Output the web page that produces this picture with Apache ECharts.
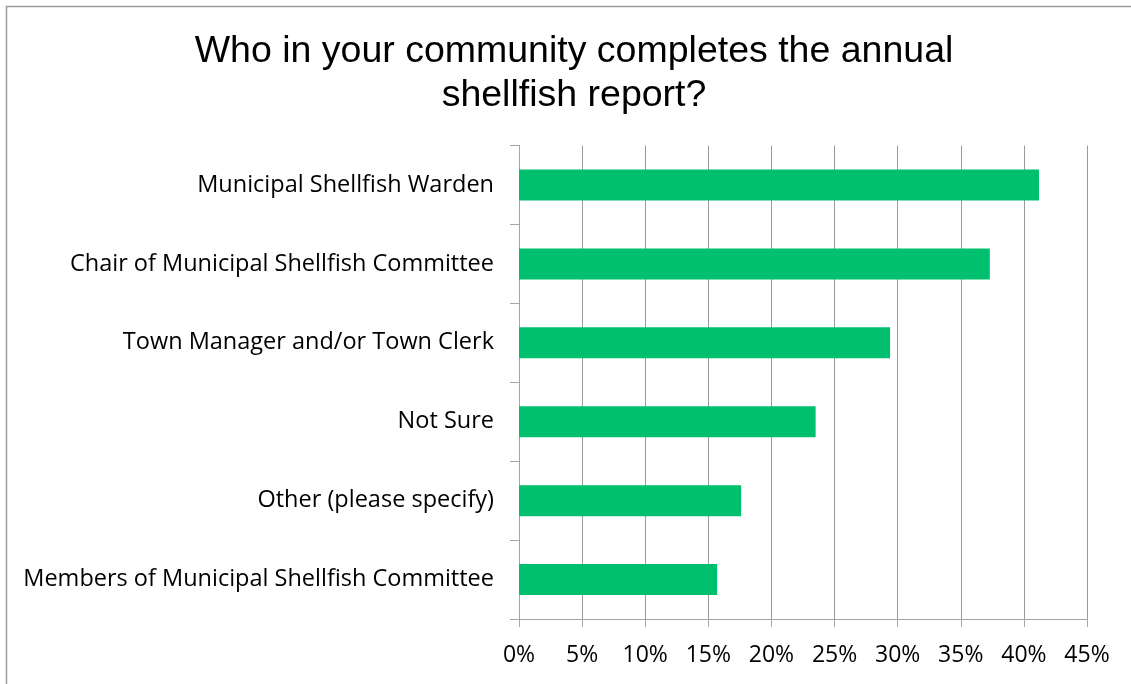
<!DOCTYPE html>
<html>
<head>
<meta charset="utf-8">
<script src="https://cdn.jsdelivr.net/npm/echarts@6/dist/echarts.min.js"></script>
<style>
  html, body { margin: 0; padding: 0; background: #fff; }
  #chart { width: 1131px; height: 684px; }
</style>
</head>
<body>
<div id="chart"></div>
<script>
// Survey responses, share of respondents
const categories = [
  'Municipal Shellfish Warden',
  'Chair of Municipal Shellfish Committee',
  'Town Manager and/or Town Clerk',
  'Not Sure',
  'Other (please specify)',
  'Members of Municipal Shellfish Committee'
];
const shares = [41.2, 37.3, 29.4, 23.5, 17.6, 15.7];
const titleLines = ['Who in your community completes the annual', 'shellfish report?'];

const chart = echarts.init(document.getElementById('chart'), null, { renderer: 'canvas' });
const gray = '#a6a6a6';
const labelFont = '"Open Sans", "Noto Sans", sans-serif';

chart.setOption({
  animation: false,
  backgroundColor: '#ffffff',
  graphic: [
    {
      type: 'rect',
      shape: { x: 6.5, y: 6.5, width: 1200, height: 800 },
      style: { fill: 'none', stroke: '#9a9a9a', lineWidth: 1.5 },
      silent: true
    },
    {
      type: 'text',
      x: 574,
      y: 30,
      style: {
        text: titleLines.join('\n'),
        font: '37.5px "Liberation Sans", Arial, sans-serif',
        lineHeight: 44,
        fill: '#000',
        align: 'center',
        verticalAlign: 'top'
      }
    }
  ],
  grid: { left: 519, right: 44, top: 145.5, bottom: 65, containLabel: false },
  xAxis: {
    type: 'value',
    min: 0,
    max: 45,
    interval: 5,
    axisLine: { show: true, lineStyle: { color: gray, width: 1 } },
    axisTick: { show: true, length: 8, lineStyle: { color: gray } },
    axisLabel: {
      formatter: '{value}%',
      color: '#000',
      fontFamily: labelFont,
      fontSize: 23,
      margin: 25
    },
    splitLine: { show: true, lineStyle: { color: '#9a9a9a', width: 1 } }
  },
  yAxis: {
    type: 'category',
    data: categories,
    inverse: true,
    axisLine: { show: true, lineStyle: { color: gray, width: 1 } },
    axisTick: { show: true, length: 9, lineStyle: { color: gray } },
    axisLabel: {
      color: '#000',
      fontFamily: labelFont,
      fontSize: 23.5,
      margin: 25
    },
    splitLine: { show: false }
  },
  series: [{
    type: 'bar',
    data: shares,
    barWidth: 31,
    itemStyle: { color: '#00bf6f' },
    emphasis: { disabled: true }
  }]
});
</script>
</body>
</html>
